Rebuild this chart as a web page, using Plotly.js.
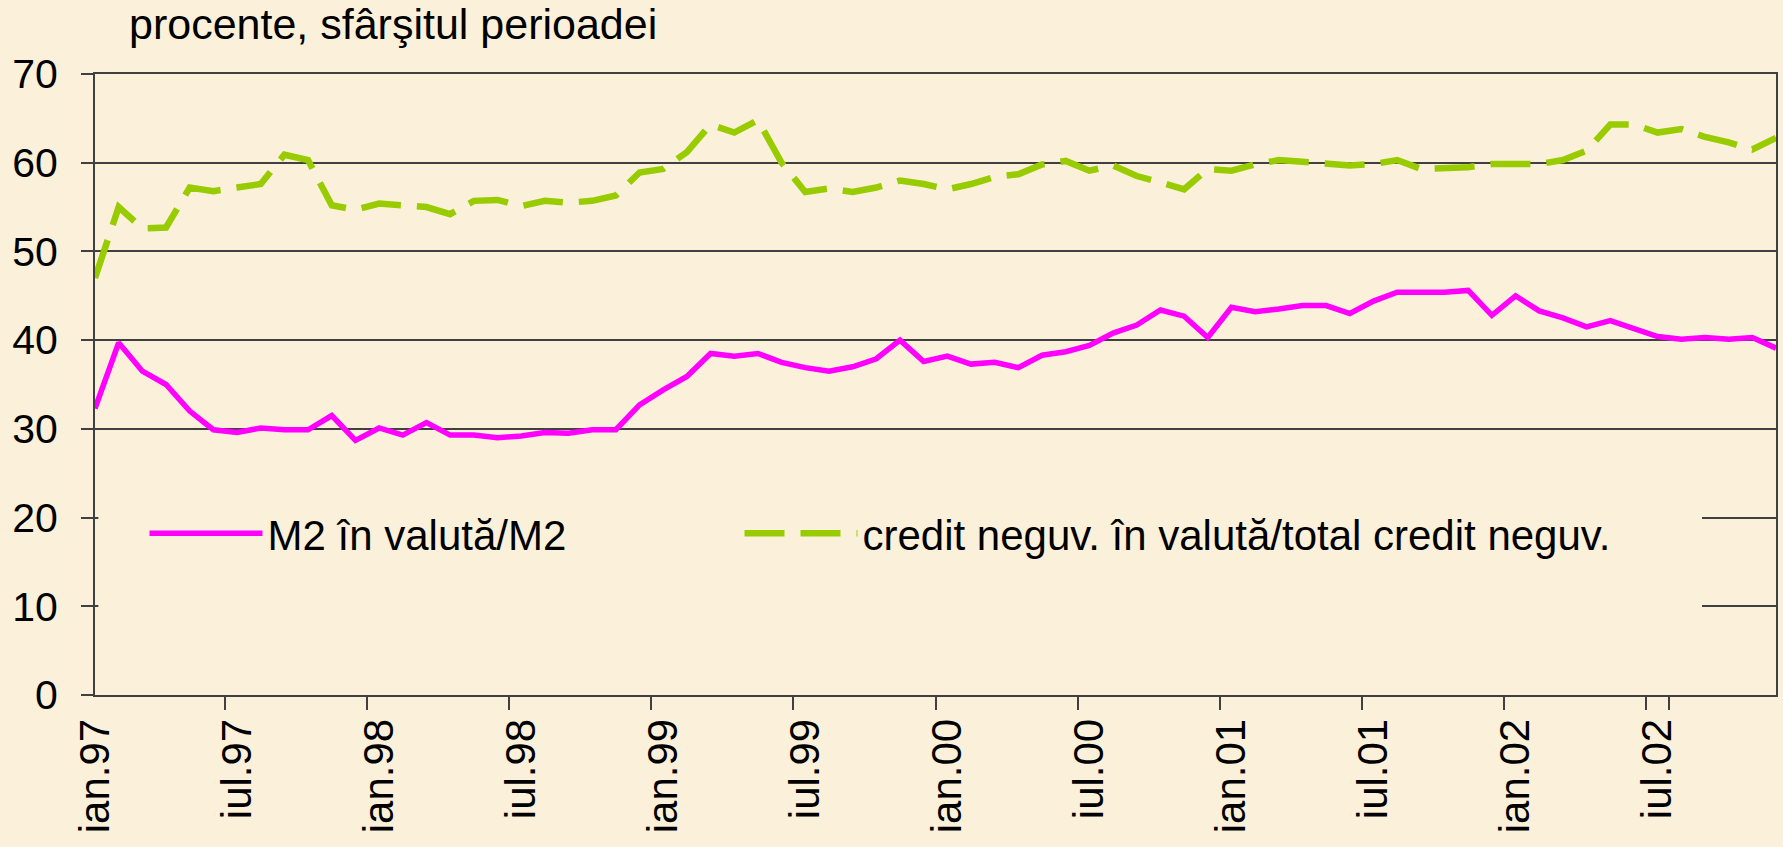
<!DOCTYPE html>
<html>
<head>
<meta charset="utf-8">
<script src="https://cdn.plot.ly/plotly-3.0.1.min.js"></script>
<style>
  html, body { margin: 0; padding: 0; background: #FBF1DA; }
  #chart { width: 1783px; height: 847px; }
</style>
</head>
<body>
<div id="chart"></div>
<script>
// Month abbreviations (Romanian) and years used to build the category labels
var months = ["ian", "feb", "mar", "apr", "mai", "iun", "iul", "aug", "sep", "oct", "noi", "dec"];
var years = ["97", "98", "99", "00", "01", "02"];

// M2 în valută / M2 (%)
var m2Valuta = [
  32.3, 39.7, 36.5, 35.0, 32.0, 29.9, 29.6, 30.1, 29.9, 29.9, 31.5, 28.7,
  30.1, 29.3, 30.7, 29.3, 29.3, 29.0, 29.2, 29.6, 29.5, 29.9, 29.9, 32.7,
  34.4, 35.9, 38.5, 38.2, 38.5, 37.5, 36.9, 36.5, 37.0, 37.9, 40.0, 37.6,
  38.2, 37.3, 37.5, 36.9, 38.3, 38.7, 39.4, 40.8, 41.7, 43.4, 42.7, 40.3,
  43.7, 43.2, 43.5, 43.9, 43.9, 43.0, 44.4, 45.4, 45.4, 45.4, 45.6, 42.8,
  45.0, 43.3, 42.5, 41.5, 42.2, 41.3, 40.4, 40.1, 40.3, 40.1, 40.3, 39.1
];

// credit neguv. în valută / total credit neguv. (%)
var creditValuta = [
  47.0, 55.0, 52.6, 52.7, 57.2, 56.8, 57.2, 57.6, 60.9, 60.3, 55.2, 54.7,
  55.4, 55.2, 55.0, 54.2, 55.7, 55.8, 55.1, 55.7, 55.5, 55.7, 56.3, 58.9,
  59.3, 61.2, 64.3, 63.4, 64.8, 60.0, 56.7, 57.1, 56.7, 57.2, 58.0, 57.6,
  57.0, 57.6, 58.4, 58.7, 59.8, 60.2, 59.1, 59.7, 58.5, 57.8, 57.0, 59.3,
  59.1, 59.8, 60.3, 60.1, 59.9, 59.7, 59.85, 60.3, 59.3, 59.4, 59.5, 59.85,
  59.8, 59.85, 60.3, 61.35, 64.3, 64.3, 63.4, 63.8, 62.9, 62.3, 61.5, 62.8
];

var seriesNames = ["M2 în valută/M2", "credit neguv. în valută/total credit neguv."];
var titleText = "procente, sfârşitul perioadei";
var yTicks = [0, 10, 20, 30, 40, 50, 60, 70];

var categories = [];
years.forEach(function (y) { months.forEach(function (m) { categories.push(m + "." + y); }); });
var labeled = categories.filter(function (c) { return c.indexOf("ian.") === 0 || c.indexOf("iul.") === 0; });

var FONT = "Arial, 'Liberation Sans', sans-serif";
var BG = "#FBF1DA";
var GRID = "#404040";
var PLOT_W = 1783 - 95 - 7;

var traces = [
  {
    x: categories, y: m2Valuta, name: seriesNames[0], type: "scatter", mode: "lines",
    line: { color: "#FF00FF", width: 5.5 }, legend: "legend"
  },
  {
    x: categories, y: creditValuta, name: seriesNames[1], type: "scatter", mode: "lines",
    line: { color: "#99CC00", width: 6.5, dash: "40px,16px" }, legend: "legend2"
  }
];

var legendCommon = {
  orientation: "h", xanchor: "left", y: 0.26, yanchor: "middle",
  bgcolor: "rgba(0,0,0,0)", font: { family: FONT, size: 42, color: "#000" },
  itemwidth: 113
};

var layout = {
  width: 1783, height: 847,
  paper_bgcolor: BG, plot_bgcolor: BG,
  margin: { l: 95, r: 7, t: 74, b: 152 },
  font: { family: FONT, color: "#000000", size: 40 },
  title: {
    text: titleText, font: { family: FONT, size: 43, color: "#000" },
    x: 129 / 1783, xref: "container", xanchor: "left",
    y: 1 - 24 / 847, yref: "container", yanchor: "middle"
  },
  showlegend: true,
  legend: Object.assign({}, legendCommon, { x: (150 - 5.5 - 95) / PLOT_W }),
  legend2: Object.assign({}, legendCommon, { x: (745 - 5.5 - 95) / PLOT_W }),
  xaxis: {
    type: "category", categoryorder: "array", categoryarray: categories,
    tickmode: "array", tickvals: labeled, ticktext: labeled,
    tickson: "boundaries", ticks: "outside", ticklen: 13, tickwidth: 2, tickcolor: GRID,
    tickangle: -90, tickfont: { family: FONT, size: 42, color: "#000" },
    showgrid: false, showline: true, linecolor: GRID, linewidth: 2, mirror: true,
    zeroline: false, ticklabelstandoff: 5
  },
  yaxis: {
    range: [0, 70], tickmode: "array", tickvals: yTicks,
    ticks: "outside", ticklen: 12, tickwidth: 2, tickcolor: GRID,
    tickfont: { family: FONT, size: 41, color: "#000" },
    showgrid: true, gridcolor: GRID, gridwidth: 2,
    showline: true, linecolor: GRID, linewidth: 2, mirror: true,
    zeroline: false, ticklabelstandoff: 15
  },
  shapes: [
    {
      // the opaque legend area of the original chart, hiding the 10 and 20 grid lines
      type: "rect", layer: "above", xref: "paper", yref: "y",
      x0: 0.002, x1: (1702 - 95) / PLOT_W, y0: 3, y1: 26,
      fillcolor: BG, line: { width: 0 }
    }
  ]
};

Plotly.newPlot("chart", traces, layout, { displayModeBar: false, staticPlot: true });
</script>
</body>
</html>
